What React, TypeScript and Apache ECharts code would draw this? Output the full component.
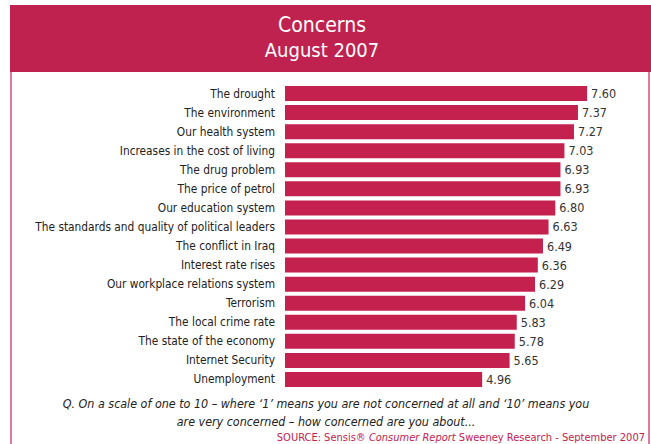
import React, { useEffect, useRef } from "react";
import * as echarts from "echarts";

const categories = [
  "The drought",
  "The environment",
  "Our health system",
  "Increases in the cost of living",
  "The drug problem",
  "The price of petrol",
  "Our education system",
  "The standards and quality of political leaders",
  "The conflict in Iraq",
  "Interest rate rises",
  "Our workplace relations system",
  "Terrorism",
  "The local crime rate",
  "The state of the economy",
  "Internet Security",
  "Unemployment",
];
const values = [7.6, 7.37, 7.27, 7.03, 6.93, 6.93, 6.8, 6.63, 6.49, 6.36, 6.29, 6.04, 5.83, 5.78, 5.65, 4.96];

const titleLine1 = "Concerns";
const titleLine2 = "August 2007";
const noteLine1 = "Q. On a scale of one to 10 – where ‘1’ means you are not concerned at all and ‘10’ means you";
const noteLine2 = "are very concerned – how concerned are you about...";

const FONT = "'DejaVu Sans Condensed', 'Noto Sans', sans-serif";
const CRIMSON = "#c0224f";
const BORDER = "#e07a9b";

export default function App() {
  const ref = useRef<HTMLDivElement>(null);
  useEffect(() => {
    if (!ref.current) return;
    const chart = echarts.init(ref.current, null, { renderer: "svg" });
    chart.setOption({
      animation: false,
      backgroundColor: "#ffffff",
      grid: { left: 285, top: 84, height: 305, right: 48, containLabel: false },
      xAxis: {
        type: "value",
        min: 0,
        max: 8,
        show: false,
      },
      yAxis: {
        type: "category",
        data: categories,
        inverse: true,
        axisLine: { show: false },
        axisTick: { show: false },
        splitLine: { show: false },
        axisLabel: { fontSize: 11.8, color: "#222", margin: 10, fontFamily: FONT },
      },
      series: [
        {
          type: "bar",
          data: values,
          barWidth: 15,
          itemStyle: { color: "#c4214f" },
          label: {
            show: true,
            position: "right",
            distance: 4,
            fontSize: 12.5,
            color: "#333",
            fontFamily: FONT,
            formatter: (p: any) => Number(p.value).toFixed(2),
          },
        },
      ],
      graphic: [
        { type: "rect", shape: { x: 10, y: 5, width: 641, height: 67 }, style: { fill: CRIMSON }, z: 1 },
        { type: "rect", shape: { x: 10, y: 72, width: 2, height: 372 }, style: { fill: BORDER } },
        { type: "rect", shape: { x: 648, y: 72, width: 2, height: 372 }, style: { fill: BORDER } },
        {
          type: "text",
          x: 322,
          y: 25,
          style: { text: titleLine1, fill: "#fff", fontSize: 21, fontFamily: FONT, align: "center", verticalAlign: "middle" },
          z: 2,
        },
        {
          type: "text",
          x: 322,
          y: 50,
          style: { text: titleLine2, fill: "#fff", fontSize: 20, fontFamily: FONT, align: "center", verticalAlign: "middle" },
          z: 2,
        },
        {
          type: "text",
          x: 326,
          y: 403,
          style: { text: noteLine1, fill: "#222", fontSize: 12.4, fontStyle: "italic", fontFamily: FONT, align: "center", verticalAlign: "middle" },
        },
        {
          type: "text",
          x: 326,
          y: 421,
          style: { text: noteLine2, fill: "#222", fontSize: 12.4, fontStyle: "italic", fontFamily: FONT, align: "center", verticalAlign: "middle" },
        },
        {
          type: "text",
          x: 645,
          y: 437,
          style: {
            text: "{n|SOURCE: Sensis® }{i|Consumer Report}{n| Sweeney Research - September 2007}",
            align: "right",
            verticalAlign: "middle",
            rich: {
              n: { fill: "#c4214f", fontSize: 11, fontFamily: FONT },
              i: { fill: "#c4214f", fontSize: 11, fontFamily: FONT, fontStyle: "italic" },
            },
          },
        },
      ],
    });
    return () => chart.dispose();
  }, []);
  return <div ref={ref} style={{ position: "fixed", left: 0, top: 0, width: 651, height: 444 }} />;
}
